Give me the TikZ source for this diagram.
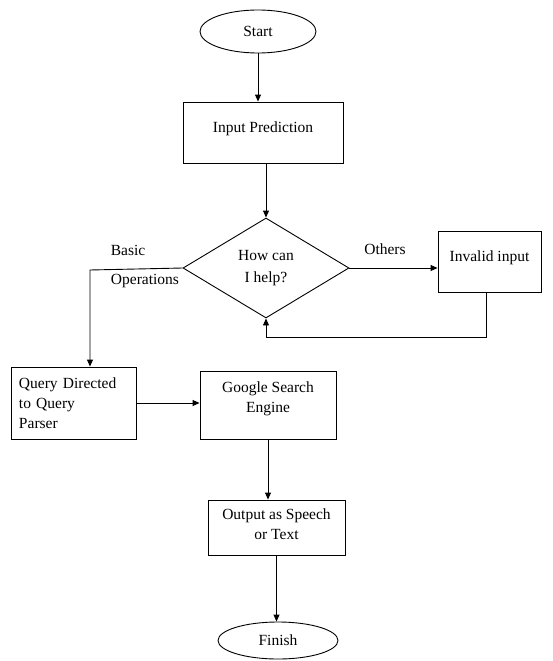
\documentclass[tikz,border=0pt]{standalone}
\usepackage{fontspec}
\setmainfont{Liberation Serif}
\usetikzlibrary{shapes.geometric,arrows.meta}
\begin{document}
\begin{tikzpicture}[x=1pt,y=-1pt,
  every node/.style={font=\fontsize{15.5}{20}\selectfont},
  box/.style={draw,line width=0.9pt,rectangle,inner sep=0pt},
  oval/.style={draw,line width=0.9pt,ellipse,inner sep=0pt},
  dia/.style={draw,line width=0.9pt,diamond,inner sep=0pt},
  lbl/.style={align=center,inner sep=0pt},
  arr/.style={line width=0.9pt,-{Triangle[length=7pt,width=6pt]}},
  ln/.style={line width=0.9pt}]
\useasboundingbox (0,0) rectangle (553,661);
\node[oval,minimum width=116,minimum height=43] (start) at (258,31.5) {Start};
\node[box,minimum width=160,minimum height=61,
  label={[lbl,yshift=4pt]center:Input Prediction}] (inp) at (263,132.5) {};
\node[dia,minimum width=166,minimum height=100,align=center,
  font=\fontsize{15.5}{22.5}\selectfont] (dec) at (266,268) {How can\\I help?};
\node[box,minimum width=103,minimum height=61,
  label={[lbl,yshift=4pt]center:Invalid input}] (inv) at (489.5,261.5) {};
\node[box,minimum width=123,minimum height=72,text width=109,align=left,inner xsep=8pt] (qry) at (73.5,403) {Query Directed\\to Query\\Parser};
\node[box,minimum width=136,minimum height=68,
  label={[lbl,yshift=6pt]center:Google Search\\Engine}] (ggl) at (268,405) {};
\node[box,minimum width=137,minimum height=55,
  label={[lbl,yshift=3pt]center:Output as Speech\\or Text}] (out) at (276.5,527.5) {};
\node[oval,minimum width=120,minimum height=37] (fin) at (278,640.5) {Finish};
\node[lbl] (basic) at (128,250) {Basic};
\node[lbl] (ops) at (145,281) {Operations};
\node[lbl] (oth) at (385,249) {Others};
\coordinate (bl) at (90,270);
\coordinate (lp) at (486,337);
\draw[arr] (start.south) -- (start.south |- inp.north);
\draw[arr] (inp.south -| dec.north) -- (dec.north);
\draw[arr] (dec.west) -- (bl) -- (bl |- qry.north);
\draw[arr] (dec.east) -- (dec.east -| inv.west);
\draw[arr] (inv.south -| lp) -- (lp) -| (dec.south);
\draw[arr] (qry.east) -- (qry.east -| ggl.west);
\draw[arr] (ggl.south) -- (ggl.south |- out.north);
\draw[arr] (out.south) -- (out.south |- fin.north);
\end{tikzpicture}
\end{document}
